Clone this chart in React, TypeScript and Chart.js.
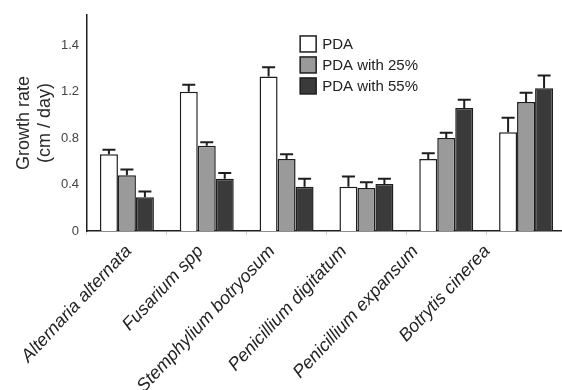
import React, { useEffect, useRef } from 'react';
import { Chart, registerables } from 'chart.js';

Chart.register(...registerables);

const categories = [
  'Alternaria alternata',
  'Fusarium spp',
  'Stemphylium botryosum',
  'Penicillium digitatum',
  'Penicillium expansum',
  'Botrytis cinerea',
];
const seriesLabels = ['PDA', 'PDA with 25%', 'PDA with 55%'];
const pdaValues = [0.66, 1.2, 1.33, 0.38, 0.62, 0.85];
const pda25Values = [0.48, 0.735, 0.62, 0.37, 0.8, 1.11];
const pda55Values = [0.29, 0.45, 0.38, 0.405, 1.06, 1.23];
const pdaErrors = [0.04, 0.06, 0.08, 0.09, 0.05, 0.125];
const pda25Errors = [0.05, 0.03, 0.04, 0.05, 0.045, 0.08];
const pda55Errors = [0.05, 0.05, 0.07, 0.045, 0.07, 0.11];
const yTickValues = [0, 0.4, 0.8, 1.2, 1.6];
const yTickLabels = ['0', '0.4', '0.8', '1.2', '1.4'];
const yAxisTitle = ['Growth rate', '(cm / day)'];

const FONT = "'Liberation Sans', Arial, Helvetica, sans-serif";
const INK = '#1e1e1e';

const errorBarPlugin = {
  id: 'errorBars',
  afterDatasetsDraw(chart: any) {
    const ctx = chart.ctx;
    const yScale = chart.scales.y;
    chart.data.datasets.forEach((ds: any, i: number) => {
      const meta = chart.getDatasetMeta(i);
      meta.data.forEach((bar: any, j: number) => {
        const v = ds.data[j];
        const e = ds.errors[j];
        const yTop = yScale.getPixelForValue(v + e);
        const x = bar.x;
        ctx.save();
        ctx.strokeStyle = INK;
        ctx.lineWidth = 2;
        ctx.beginPath();
        ctx.moveTo(x, bar.y);
        ctx.lineTo(x, yTop);
        ctx.moveTo(x - 6.5, yTop);
        ctx.lineTo(x + 6.5, yTop);
        ctx.stroke();
        ctx.restore();
      });
    });
  },
};

const boxLegendPlugin = {
  id: 'boxLegend',
  afterDraw(chart: any, _args: any, opts: any) {
    const { ctx, chartArea } = chart;
    const x0 = chartArea.left + opts.xFrac * (chartArea.right - chartArea.left);
    const y0 = chartArea.top + opts.yFrac * (chartArea.bottom - chartArea.top);
    const box = opts.boxSize;
    ctx.save();
    chart.data.datasets.forEach((ds: any, i: number) => {
      const y = y0 + i * opts.rowHeight;
      ctx.fillStyle = ds.backgroundColor;
      ctx.fillRect(x0, y, box, box);
      ctx.strokeStyle = INK;
      ctx.lineWidth = 1.5;
      ctx.strokeRect(x0, y, box, box);
      ctx.fillStyle = '#222';
      ctx.font = `${opts.fontSize}px ${FONT}`;
      ctx.textBaseline = 'middle';
      ctx.textAlign = 'left';
      ctx.fillText(ds.label, x0 + box + 6, y + box / 2 + 1);
    });
    ctx.restore();
  },
};

export default function App() {
  const canvasRef = useRef<HTMLCanvasElement | null>(null);

  useEffect(() => {
    document.body.style.margin = '0';
    const canvas = canvasRef.current;
    if (!canvas) return;
    const chart = new Chart(canvas, {
      type: 'bar',
      data: {
        labels: categories,
        datasets: [
          { label: seriesLabels[0], data: pdaValues, errors: pdaErrors, backgroundColor: '#ffffff' },
          { label: seriesLabels[1], data: pda25Values, errors: pda25Errors, backgroundColor: '#9a9a9a' },
          { label: seriesLabels[2], data: pda55Values, errors: pda55Errors, backgroundColor: '#3a3a3a' },
        ].map((d) => ({
          ...d,
          borderColor: INK,
          borderWidth: 1.5,
          barPercentage: 1,
          categoryPercentage: 0.676,
        })) as any,
      },
      options: {
        responsive: false,
        animation: false,
        layout: { padding: { top: 15, right: 6, left: 0, bottom: 0 } },
        plugins: {
          legend: { display: false },
          tooltip: { enabled: false },
          boxLegend: { xFrac: 0.445, yFrac: 0.097, boxSize: 16, rowHeight: 21, fontSize: 15 },
        } as any,
        scales: {
          x: {
            type: 'category',
            offset: true,
            weight: 0,
            grid: { display: true, drawOnChartArea: false, drawTicks: true, tickLength: 4, color: '#cfcfcf', offset: true },
            border: { display: true, color: INK, width: 1.5 },
            ticks: { display: false },
            afterFit: (s: any) => {
              s.height = 4;
              s.paddingLeft = 0;
              s.paddingRight = 0;
            },
          },
          x2: {
            type: 'linear',
            axis: 'x',
            position: 'bottom',
            offset: false,
            weight: 1,
            min: -0.58,
            max: 6.1,
            grid: { display: false, drawTicks: false, offset: false },
            border: { display: false },
            afterBuildTicks: (s: any) => {
              s.ticks = categories.map((_, i) => ({ value: i }));
            },
            ticks: {
              autoSkip: false,
              minRotation: 47,
              maxRotation: 47,
              padding: 6,
              color: '#222',
              font: { family: FONT, size: 18, style: 'italic' },
              callback: (v: any) => categories[v] ?? '',
            },
            afterFit: (s: any) => {
              s.height = 155;
              s.paddingLeft = 0;
              s.paddingRight = 0;
            },
          },
          y: {
            type: 'linear',
            min: 0,
            max: 1.86,
            grid: { display: false, drawTicks: false },
            border: { display: true, color: INK, width: 1.5 },
            afterBuildTicks: (s: any) => {
              s.ticks = yTickValues.map((v) => ({ value: v }));
            },
            ticks: {
              padding: 8,
              color: '#444',
              font: { family: FONT, size: 13 },
              callback: (_v: any, i: number) => yTickLabels[i],
            },
            title: {
              display: true,
              text: yAxisTitle,
              color: '#2a2a2a',
              font: { family: FONT, size: 18 },
              padding: { top: 13, bottom: 0 },
            },
            afterFit: (s: any) => {
              s.width = 87;
              s.paddingTop = 0;
              s.paddingBottom = 0;
            },
          },
        } as any,
      },
      plugins: [errorBarPlugin, boxLegendPlugin],
    });
    return () => chart.destroy();
  }, []);

  return (
    <div style={{ width: 562, height: 390, overflow: 'hidden', position: 'relative' }}>
      <canvas ref={canvasRef} width={572} height={390} style={{ display: 'block' }} />
    </div>
  );
}
